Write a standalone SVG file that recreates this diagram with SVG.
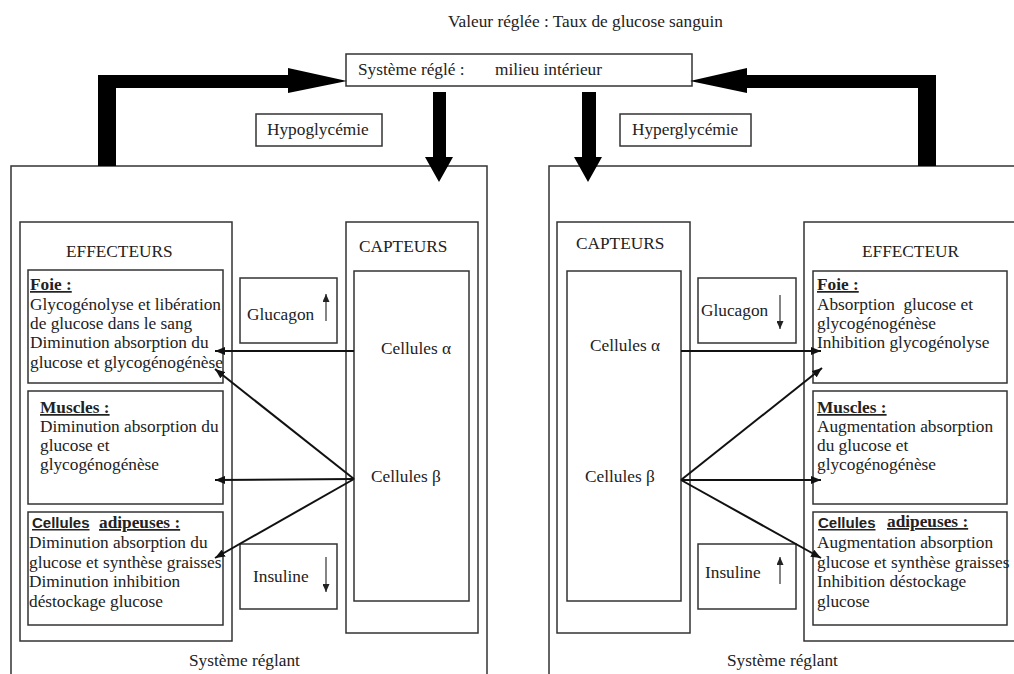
<svg xmlns="http://www.w3.org/2000/svg" width="1014" height="674" viewBox="0 0 1014 674">
<style>
text{font-family:"Liberation Serif","Times New Roman",serif;font-size:17.3px;fill:#222;white-space:pre}
.b{font-weight:bold;text-decoration:underline}
.s{font-family:"Liberation Sans",Arial,sans-serif;font-size:15px;font-weight:bold;text-decoration:underline}
.box{fill:none;stroke:#333;stroke-width:1.5}
.con{stroke:#111;stroke-width:2;fill:none;marker-end:url(#ah)}
.small{stroke:#333;stroke-width:1.2;fill:none;marker-end:url(#sh)}
.big{fill:#000}
</style>
<defs>
<marker id="ah" markerUnits="userSpaceOnUse" markerWidth="11" markerHeight="8" refX="10" refY="4" orient="auto"><path d="M0,0 L10,4 L0,8 z" fill="#111"/></marker>
<marker id="sh" markerUnits="userSpaceOnUse" markerWidth="9" markerHeight="7" refX="8" refY="3.5" orient="auto"><path d="M0,0 L8,3.5 L0,7 z" fill="#222"/></marker>
</defs>
<rect width="1014" height="674" fill="#fff"/>

<text x="448" y="27">Valeur réglée : Taux de glucose sanguin</text>

<g id="systeme-regle">
<rect class="box" x="346" y="54" width="346" height="32"/>
<text x="358" y="75">Système réglé :</text>
<text x="495" y="75">milieu intérieur</text>
</g>

<g id="hypo"><rect class="box" x="256" y="114" width="126" height="32"/><text x="267" y="135">Hypoglycémie</text></g>
<g id="hyper"><rect class="box" x="620" y="114" width="131" height="32"/><text x="632" y="135">Hyperglycémie</text></g>

<g id="systeme-reglant-gauche">
<path class="box" d="M11,674 L11,166 L487,166 L487,674"/>
<text x="189" y="666">Système réglant</text>
</g>
<g id="systeme-reglant-droit">
<path class="box" d="M549,674 L549,166 L1014,166"/>
<text x="727" y="666">Système réglant</text>
</g>

<g id="effecteurs-gauche">
<rect class="box" x="20" y="222" width="212" height="419"/>
<text x="66" y="257">EFFECTEURS</text>
</g>
<g id="foie-gauche">
<rect class="box" x="28" y="270" width="195" height="113"/>
<text class="b" x="30" y="290">Foie :</text>
<text x="30" y="310">Glycogénolyse et libération</text>
<text x="30" y="329">de glucose dans le sang</text>
<text x="30" y="348">Diminution absorption du</text>
<text x="30" y="368">glucose et glycogénogénèse</text>
</g>
<g id="muscles-gauche">
<rect class="box" x="28" y="391" width="195" height="113"/>
<text class="b" x="40" y="413">Muscles :</text>
<text x="40" y="432">Diminution absorption du</text>
<text x="40" y="451">glucose et</text>
<text x="40" y="470">glycogénogénèse</text>
</g>
<g id="adipeuses-gauche">
<rect class="box" x="28" y="512" width="195" height="113"/>
<text class="s" x="32" y="528">Cellules</text>
<text class="b" x="99" y="528">adipeuses :</text>
<text x="29" y="548">Diminution absorption du</text>
<text x="29" y="568">glucose et synthèse graisses</text>
<text x="29" y="587">Diminution inhibition</text>
<text x="29" y="607">déstockage glucose</text>
</g>

<g id="glucagon-gauche">
<rect class="box" x="240" y="278" width="97" height="65"/>
<text x="247" y="320">Glucagon</text>
<line class="small" x1="326" y1="321" x2="326" y2="294"/>
</g>
<g id="insuline-gauche">
<rect class="box" x="240" y="544" width="97" height="65"/>
<text x="253" y="582">Insuline</text>
<line class="small" x1="326" y1="557" x2="326" y2="592"/>
</g>

<g id="capteurs-gauche">
<rect class="box" x="346" y="222" width="132" height="411"/>
<text x="359" y="252">CAPTEURS</text>
<rect class="box" x="354" y="271" width="115" height="330"/>
<text x="381" y="354">Cellules α</text>
<text x="371" y="482">Cellules β</text>
</g>

<g id="capteurs-droit">
<rect class="box" x="557" y="222" width="133" height="411"/>
<text x="576" y="249">CAPTEURS</text>
<rect class="box" x="567" y="271" width="114" height="330"/>
<text x="590" y="351">Cellules α</text>
<text x="585" y="482">Cellules β</text>
</g>

<g id="glucagon-droit">
<rect class="box" x="698" y="278" width="98" height="65"/>
<text x="701" y="316">Glucagon</text>
<line class="small" x1="780" y1="295" x2="780" y2="329"/>
</g>
<g id="insuline-droit">
<rect class="box" x="698" y="544" width="98" height="65"/>
<text x="705" y="578">Insuline</text>
<line class="small" x1="780" y1="584" x2="780" y2="557"/>
</g>

<g id="effecteur-droit">
<path class="box" d="M1014,222 L804,222 L804,641 L1014,641"/>
<text x="862" y="257">EFFECTEUR</text>
</g>
<g id="foie-droit">
<rect class="box" x="813" y="271" width="194" height="112"/>
<text class="b" x="817" y="290">Foie :</text>
<text x="817" y="310" xml:space="preserve">Absorption  glucose et</text>
<text x="817" y="329">glycogénogénèse</text>
<text x="817" y="348">Inhibition glycogénolyse</text>
</g>
<g id="muscles-droit">
<rect class="box" x="813" y="391" width="194" height="113"/>
<text class="b" x="817" y="413">Muscles :</text>
<text x="817" y="432">Augmentation absorption</text>
<text x="817" y="451">du glucose et</text>
<text x="817" y="470">glycogénogénèse</text>
</g>
<g id="adipeuses-droit">
<rect class="box" x="813" y="512" width="194" height="113"/>
<text class="s" x="818" y="528">Cellules</text>
<text class="b" x="887" y="527">adipeuses :</text>
<text x="817" y="548">Augmentation absorption</text>
<text x="817" y="568">glucose et synthèse graisses</text>
<text x="817" y="587">Inhibition déstockage</text>
<text x="817" y="607">glucose</text>
</g>

<g id="connecteurs">
<path class="big" d="M98,166 L98,75 L288,75 L288,68 L347,81 L288,93 L288,88 L116,88 L116,166 Z"/>
<path class="big" d="M936,166 L936,75 L747,75 L747,68 L690,81 L747,93 L747,88 L918,88 L918,166 Z"/>
<path class="big" d="M433,92 L446,92 L446,157 L453,157 L439,182 L425,157 L433,157 Z"/>
<path class="big" d="M582,92 L596,92 L596,157 L602,157 L588,182 L574,157 L582,157 Z"/>
<line class="con" x1="354" y1="351" x2="215" y2="351"/>
<line class="con" x1="354" y1="479" x2="215" y2="369"/>
<line class="con" x1="354" y1="479" x2="215" y2="480"/>
<line class="con" x1="354" y1="479" x2="215" y2="558"/>
<line class="con" x1="681" y1="351" x2="821" y2="351"/>
<line class="con" x1="681" y1="480" x2="822" y2="368"/>
<line class="con" x1="681" y1="480" x2="821" y2="480"/>
<line class="con" x1="681" y1="480" x2="821" y2="558"/>
</g>
</svg>
